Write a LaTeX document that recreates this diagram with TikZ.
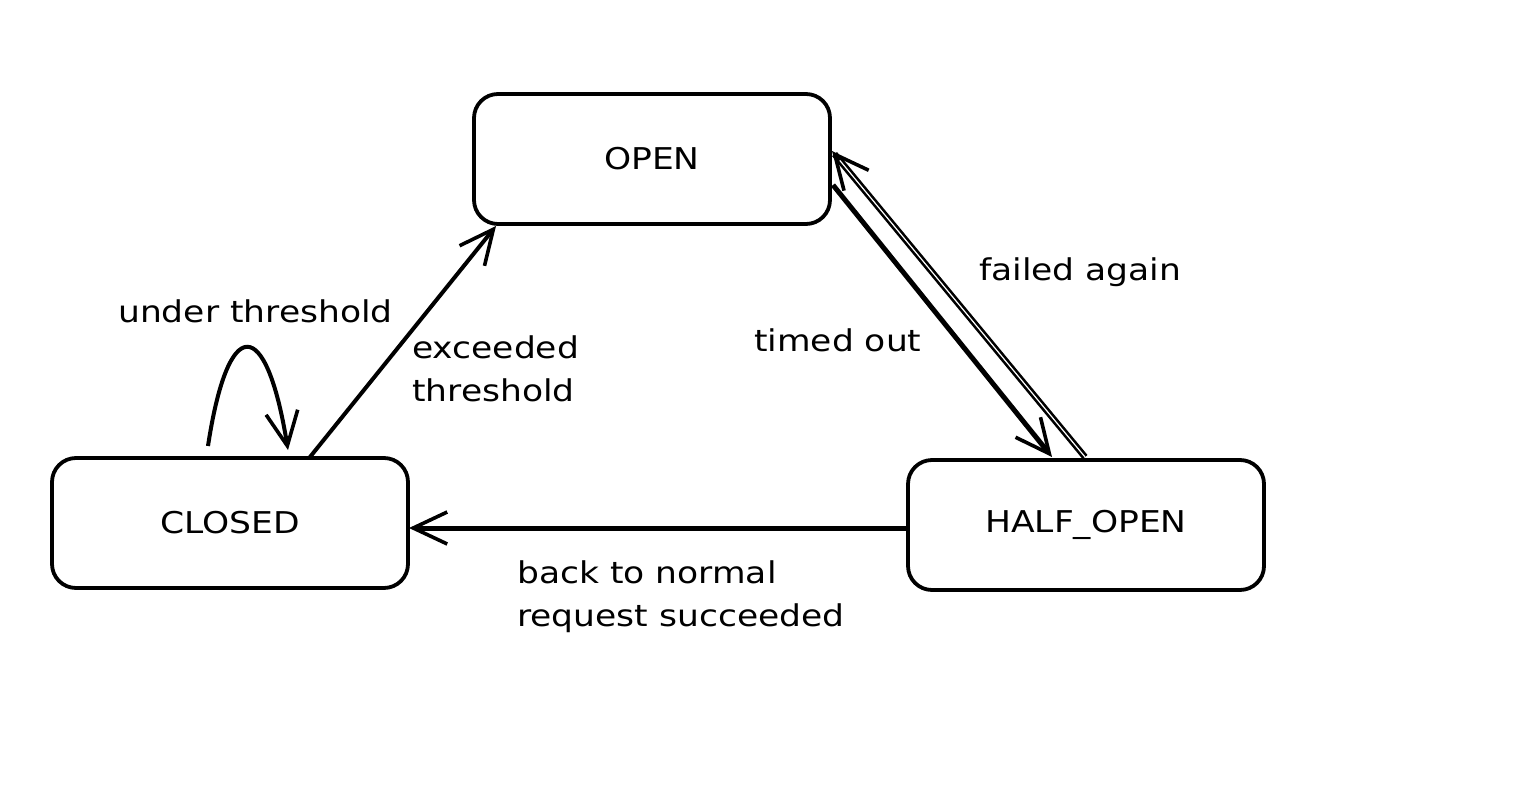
\documentclass[tikz,border=0pt]{standalone}
\usepackage{fontspec}
\setmainfont[FakeStretch=1.15]{DejaVu Sans}
\usetikzlibrary{arrows.meta}
\begin{document}
\begin{tikzpicture}[x=1pt,y=-1pt,
  tip/.tip={Straight Barb[length=34pt,width=32pt,line width=3.6pt]},
  state/.style={draw, line width=3.8pt, rounded corners=24pt, minimum width=356pt, minimum height=130pt, inner sep=0pt, font=\fontsize{30}{36}\selectfont},
  lbl/.style={font=\fontsize{30}{43}\selectfont, align=left, inner sep=0pt},
  arr/.style={line width=4pt, -tip}]
\useasboundingbox (0,0) rectangle (1530,800);
\node[state] (open) at (652,159) {OPEN};
\node[state] (closed) at (230,523) {CLOSED};
\node[state] (half) at (1086,525) {HALF\_OPEN};
\coordinate (e1) at (310,457);
\coordinate (e2) at (496,226);
\draw[arr] (e1) -- (e2);
\coordinate (t1) at (833,185);
\coordinate (t2) at (1052,457);
\draw[arr, line width=5pt] (t1) -- (t2);
\coordinate (f1) at (1085,457);
\coordinate (f2) at (832,151);
\draw[line width=2.6pt, double=white, double distance=1.2pt, shorten >=4pt] (f1) -- (f2);
\draw[arr, shorten <=385pt] (f1) -- (f2);
\coordinate (b1) at (907,528);
\coordinate (b2) at (409,528);
\draw[arr, line width=5pt] (b1) -- (b2);
\coordinate (l1) at (208,446);
\coordinate (l2) at (288,450);
\draw[arr] (l1) .. controls (228,314) and (266,314) .. (l2);
\node[lbl, anchor=west] (lu) at (118,311) {under threshold};
\node[lbl, anchor=north west] (le) at (412,336) {exceeded\\threshold};
\node[lbl, anchor=west] (lt) at (754,340) {timed out};
\node[lbl, anchor=west] (lf) at (979,272) {failed again};
\node[lbl, anchor=north west] (lb) at (517,560) {back to normal\\request succeeded};
\end{tikzpicture}
\end{document}
